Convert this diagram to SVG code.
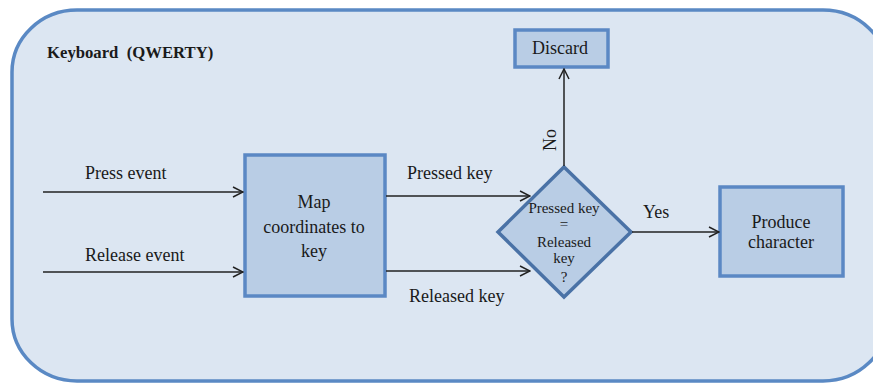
<svg xmlns="http://www.w3.org/2000/svg" width="873" height="383" viewBox="0 0 873 383">
  <style>
    .frame { fill: #dce6f2; stroke: #5a89c4; stroke-width: 3.5; }
    .box { fill: #b9cde5; stroke: #5b88c4; stroke-width: 3.5; }
    .dia { fill: #b9cde5; stroke: #4a72a6; stroke-width: 3.5; stroke-linejoin: miter; }
    .wire { fill: none; stroke: #222; stroke-width: 1.5; }
  </style>
  <defs>
    <marker id="open" viewBox="0 0 12 12" refX="11" refY="6" markerWidth="12" markerHeight="12" markerUnits="userSpaceOnUse" orient="auto">
      <path d="M1,1 L11,6 L1,11" fill="none" stroke="#222" stroke-width="1.5"/>
    </marker>
  </defs>

  <!-- enclosing keyboard frame (its right edge runs past the canvas) -->
  <g id="keyboard">
    <rect class="frame" x="12" y="10" width="876" height="371" rx="65" ry="62"/>
    <text x="47" y="58" font-family="Liberation Serif, serif" font-size="16.7" font-weight="bold" fill="#1a1a1a" xml:space="preserve">Keyboard  (QWERTY)</text>
  </g>

  <g id="map" font-family="Liberation Serif, serif" font-size="18" fill="#1a1a1a" text-anchor="middle">
    <rect class="box" x="245" y="155" width="140" height="141"/>
    <text x="314" y="208">Map</text>
    <text x="314" y="233">coordinates to</text>
    <text x="314" y="257">key</text>
  </g>

  <g id="discard" font-family="Liberation Serif, serif" font-size="18" fill="#1a1a1a" text-anchor="middle">
    <rect class="box" x="515" y="30" width="93" height="37"/>
    <text x="560" y="54">Discard</text>
  </g>

  <g id="decision" font-family="Liberation Serif, serif" font-size="15" fill="#1a1a1a" text-anchor="middle">
    <polygon class="dia" points="564,167 631,232 564,297 498,232"/>
    <text x="564" y="213">Pressed key</text>
    <text x="564" y="229">=</text>
    <text x="564" y="247">Released</text>
    <text x="564" y="263">key</text>
    <text x="564" y="282">?</text>
  </g>

  <g id="produce" font-family="Liberation Serif, serif" font-size="18" fill="#1a1a1a" text-anchor="middle">
    <rect class="box" x="720" y="187" width="123" height="89"/>
    <text x="781" y="228">Produce</text>
    <text x="781" y="248">character</text>
  </g>

  <g id="connectors" font-family="Liberation Serif, serif" font-size="18" fill="#1a1a1a">
    <line class="wire" x1="43" y1="192" x2="243" y2="192" marker-end="url(#open)"/>
    <line class="wire" x1="43" y1="272" x2="243" y2="272" marker-end="url(#open)"/>
    <line class="wire" x1="386" y1="196" x2="530" y2="196" marker-end="url(#open)"/>
    <line class="wire" x1="386" y1="271" x2="530" y2="271" marker-end="url(#open)"/>
    <line class="wire" x1="632" y1="232" x2="719" y2="232" marker-end="url(#open)"/>
    <line class="wire" x1="564" y1="166" x2="564" y2="69" marker-end="url(#open)"/>
    <text x="85" y="179">Press event</text>
    <text x="85" y="261">Release event</text>
    <text x="407" y="179">Pressed key</text>
    <text x="409" y="302">Released key</text>
    <text x="643" y="218">Yes</text>
    <text text-anchor="middle" transform="translate(556,140) rotate(-90)">No</text>
  </g>
</svg>
